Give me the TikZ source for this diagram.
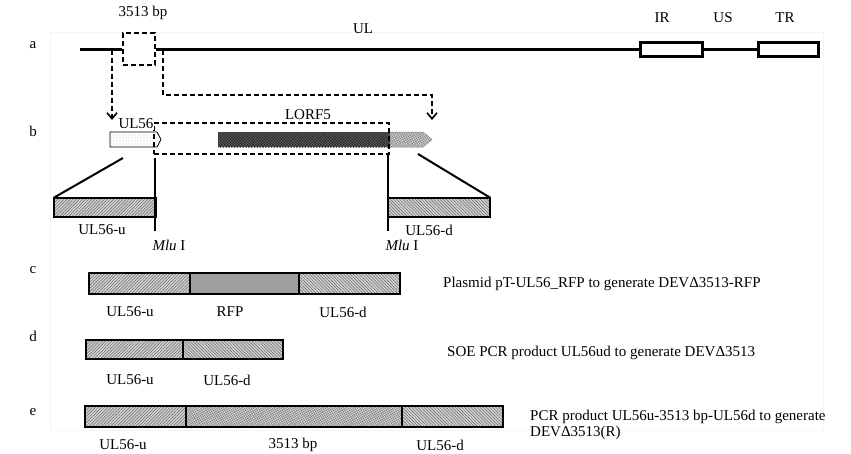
\documentclass[tikz,border=0pt]{standalone}
\usepackage{fontspec}
\setmainfont{Liberation Serif}
\usetikzlibrary{patterns,patterns.meta,fit,arrows.meta}
\begin{document}
\begin{tikzpicture}[x=1pt,y=-1pt,
  txt/.style={font=\fontsize{15}{17}\selectfont, inner sep=0pt},
  box/.style={draw, line width=2.4pt, inner sep=0pt},
  uhatch/.style={preaction={fill=black!18}, pattern={Lines[angle=45,distance=2.2pt,line width=0.5pt]}, pattern color=black!60},
  dhatch/.style={preaction={fill=black!18}, pattern={Lines[angle=-45,distance=2.2pt,line width=0.5pt]}, pattern color=black!60},
  rfpfill/.style={fill=black!38},
  wavyfill/.style={preaction={fill=black!15}, pattern={Hatch[angle=30,distance=2pt,line width=0.4pt]}, pattern color=black!50},
  dashln/.style={line width=1.8pt, dash pattern=on 5pt off 3pt},
  genome/.style={draw, line width=3pt, fill=white, inner sep=0pt},
  conn/.style={line width=2pt},
  cut/.style={line width=1.6pt},
  tip/.style={-{Straight Barb[length=6pt,width=10pt,line width=1.6pt]}},
]
\useasboundingbox (0,0) rectangle (851,453);
\draw[black!4, line width=0.8pt] (50,32) rectangle (823,430);

% ---------- row a ----------
\node[txt] (la) at (33,45) {a};
\coordinate (astart) at (80,49);
\node[draw, dashln, fill=white, inner sep=0pt, fit={(123,33)(155,65)}] (del) {};
\node[genome, fit={(640,42)(702,56)}] (IR) {};
\node[genome, fit={(758,42)(818,56)}] (TR) {};
\draw[line width=3pt] (astart) -- (del.west);
\draw[line width=3pt] (del.east) -- (IR.west);
\draw[line width=3pt] (IR.east) -- (TR.west);
\node[txt] (t3513) at (143,13) {3513 bp};
\node[txt] (tUL) at (363,29) {UL};
\node[txt] (tIR) at (662,18) {IR};
\node[txt] (tUS) at (723,18) {US};
\node[txt] (tTR) at (785,18) {TR};

% dashed arrows
\coordinate (ls) at (112,50);
\coordinate (le) at (112,120);
\coordinate (rs) at (163,50);
\coordinate (rk1) at (163,95);
\coordinate (rk2) at (432,95);
\coordinate (re) at (432,120);
\draw[dashln, tip] (ls) -- (le);
\draw[dashln, tip] (rs) -- (rk1) -- (rk2) -- (re);

% ---------- row b ----------
\node[txt] (lb) at (33,131) {b};
\fill[white] (110,132) -- (157,132) -- (161,139.5) -- (157,147) -- (110,147) -- cycle;
\draw[line width=0.8pt, pattern={Dots[distance=3pt,radius=0.45pt]}, pattern color=black!60]
  (110,132) -- (157,132) -- (161,139.5) -- (157,147) -- (110,147) -- cycle;
\fill[black!85] (218,132) rectangle (390,147);
\fill[pattern={Hatch[angle=45,distance=2pt,line width=0.4pt]}, pattern color=black!62] (218,132) rectangle (390,147);
\path[wavyfill, draw=black!45, line width=0.5pt] (390,132) -- (423,132) -- (432,139.5) -- (423,147) -- (390,147) -- cycle;
\node[draw, dashln, inner sep=0pt, fit={(154,123)(389,154)}] (lorf) {};
\node[txt, fill=white, inner sep=0.5pt] (tUL56) at (136,124) {UL56};
\node[txt] (tLORF) at (308,115) {LORF5};

\node[box, uhatch, fit={(54,198)(156,217)}] (bu) {};
\node[box, dhatch, fit={(388,198)(490,217)}] (bd) {};
\coordinate (dl) at (123,158);
\coordinate (dr) at (418,154);
\draw[conn] (dl) -- (bu.north west);
\draw[conn] (dr) -- (bd.north east);
\coordinate (m1a) at (155,158);
\coordinate (m1b) at (155,231);
\coordinate (m2a) at (388,154);
\coordinate (m2b) at (388,231);
\draw[cut] (m1a) -- (m1b);
\draw[cut] (m2a) -- (m2b);
\node[txt] (tbu) at (102,230) {UL56-u};
\node[txt] (tbd) at (429,230) {UL56-d};
\node[txt] (mlu1) at (169,245) {\textit{Mlu} I};
\node[txt] (mlu2) at (402,245) {\textit{Mlu} I};

% ---------- row c ----------
\node[txt] (lc) at (33,270) {c};
\node[box, uhatch, fit={(89,273)(190,294)}] (cu) {};
\node[box, rfpfill, fit={(190,273)(299,294)}] (cr) {};
\node[box, dhatch, fit={(299,273)(400,294)}] (cd) {};
\node[txt] (tcu) at (130,312) {UL56-u};
\node[txt] (tcr) at (230,312) {RFP};
\node[txt] (tcd) at (343,312) {UL56-d};
\node[txt, anchor=west] (tc) at (443,284) {Plasmid pT-UL56\_RFP to generate DEVΔ3513-RFP};

% ---------- row d ----------
\node[txt] (ld) at (33,336) {d};
\node[box, uhatch, fit={(86,340)(183,359)}] (du) {};
\node[box, dhatch, fit={(183,340)(283,359)}] (dd) {};
\node[txt] (tdu) at (130,380) {UL56-u};
\node[txt] (tdd) at (227,380) {UL56-d};
\node[txt, anchor=west] (td) at (447,353) {SOE PCR product UL56ud to generate DEVΔ3513};

% ---------- row e ----------
\node[txt] (le2) at (33,412) {e};
\node[box, uhatch, fit={(85,406)(186,427)}] (eu) {};
\node[box, wavyfill, fit={(186,406)(402,427)}] (em) {};
\node[box, dhatch, fit={(402,406)(503,427)}] (ed) {};
\node[txt] (teu) at (123,445) {UL56-u};
\node[txt] (tem) at (293,445) {3513 bp};
\node[txt] (ted) at (440,445) {UL56-d};
\node[txt, anchor=west] (te1) at (530,417) {PCR product UL56u-3513 bp-UL56d to generate};
\node[txt, anchor=west] (te2) at (530,433) {DEVΔ3513(R)};
\end{tikzpicture}
\end{document}
